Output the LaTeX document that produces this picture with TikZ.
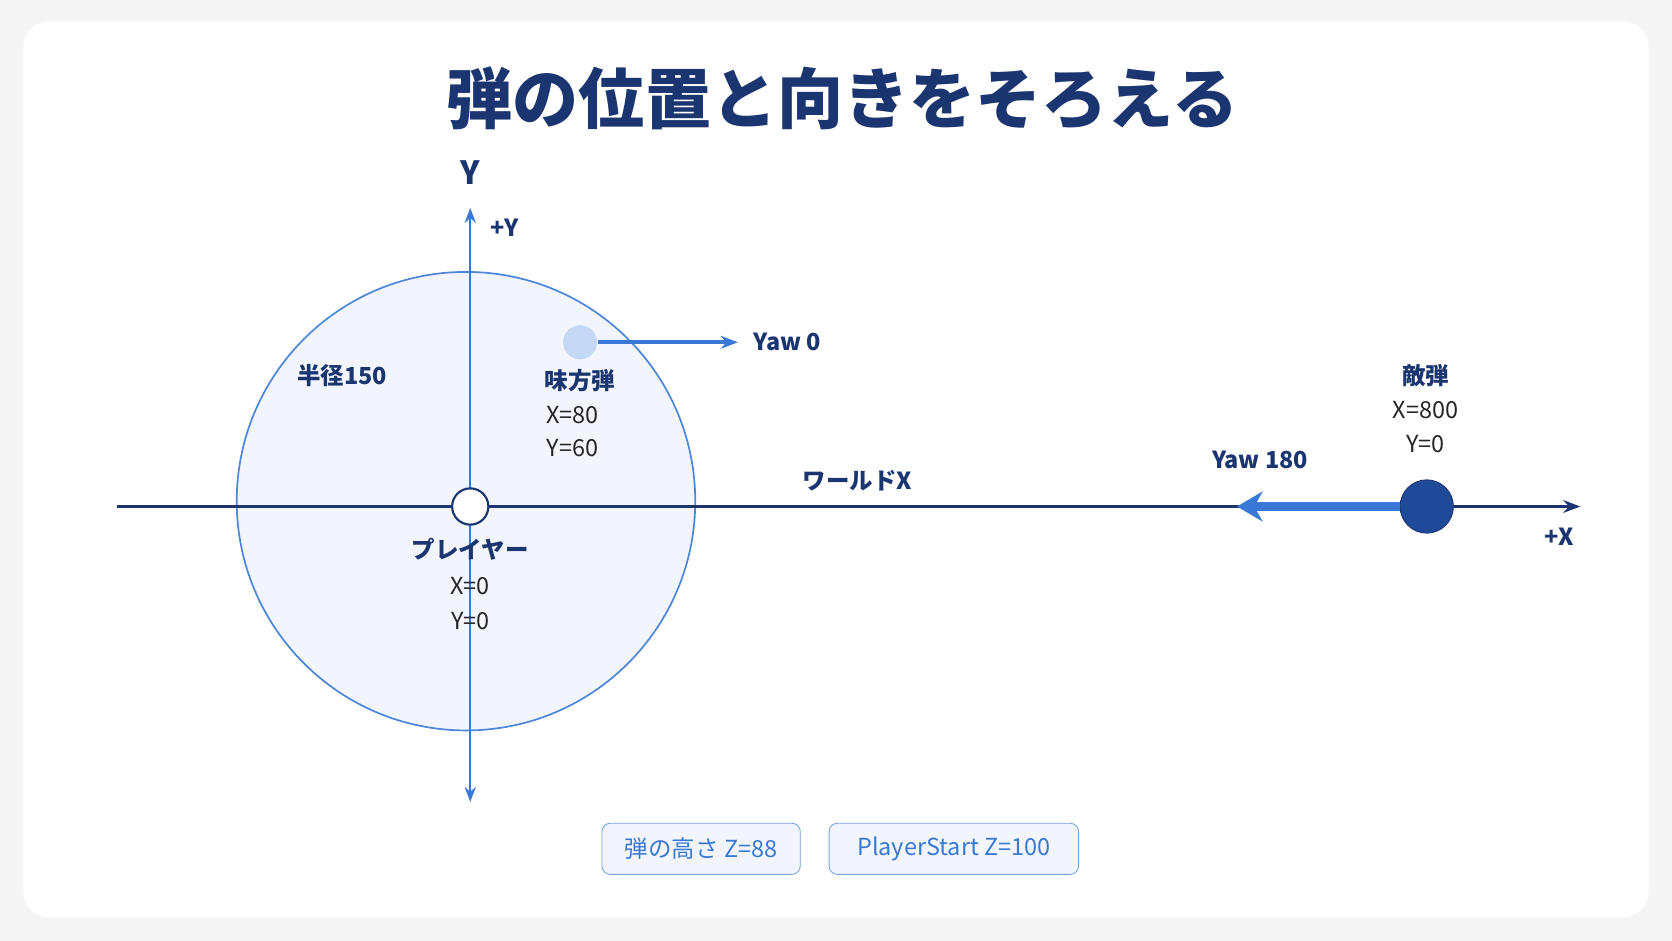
\documentclass[tikz,border=0pt]{standalone}
\usepackage{fontspec}
\setmainfont{Noto Sans CJK JP}
\usetikzlibrary{arrows.meta}
\definecolor{navy}{HTML}{1A3570}
\definecolor{axblue}{HTML}{3A78D8}
\definecolor{lblue}{HTML}{C5D8F5}
\definecolor{dblue}{HTML}{1F4A9A}
\definecolor{cfill}{HTML}{F2F6FC}
\begin{document}
\begin{tikzpicture}[x=0.5pt,y=-0.5pt,
  lab/.style={font=\fontsize{11}{13}\selectfont,text=black!85},
  blab/.style={font=\fontsize{11}{13}\selectfont\bfseries,text=navy},
  tag/.style={draw=axblue!70,fill=cfill,rounded corners=4pt,text=axblue,font=\fontsize{11}{13}\selectfont,minimum height=24pt,inner xsep=8pt}]
\useasboundingbox (0,0) rectangle (1568,882);
\fill[black!4] (0,0) rectangle (1568,882);
\fill[white,rounded corners=12pt] (22,20) rectangle (1546,860);
\node[font=\fontsize{31}{36}\selectfont\bfseries,text=navy] (title) at (790,92) {弾の位置と向きをそろえる};
\draw[axblue!90,fill=cfill,line width=0.8pt] (437,470) circle (215);
\coordinate (yt) at (441,195); \coordinate (yb) at (441,752);
\draw[axblue,line width=1pt,{Stealth[length=7pt]}-{Stealth[length=7pt]}] (yb) -- (yt);
\coordinate (xl) at (110,475); \coordinate (xr) at (1482,475);
\draw[navy,line width=1pt,-{Stealth[length=8pt]}] (xl) -- (xr);
\node[font=\fontsize{15}{18}\selectfont\bfseries,text=navy] (Y) at (441,162) {Y};
\node[blab] (py) at (473,214) {+Y};
\node[blab] (px) at (1462,503) {+X};
\node[circle,draw=navy,fill=white,line width=1pt,minimum size=17pt,inner sep=0] (pl) at (441,475) {};
\node[blab] (plt) at (441,515) {プレイヤー};
\node[lab] (plx) at (441,550) {X=0};
\node[lab] (ply) at (441,582) {Y=0};
\node[blab] (r) at (321,352) {半径150};
\node[circle,fill=lblue,minimum size=16pt,inner sep=0] (fb) at (544,321) {};
\coordinate (fe) at (692,321);
\draw[axblue,line width=2pt,-{Stealth[length=8pt]}] (fb) -- (fe);
\node[blab,anchor=west] (y0) at (700,321) {Yaw 0};
\node[blab] (fbt) at (544,357) {味方弾};
\node[lab] (fbx) at (537,389) {X=80};
\node[lab] (fby) at (537,420) {Y=60};
\node[blab] (wx) at (804,451) {ワールドX};
\node[circle,fill=dblue,draw=navy,minimum size=25pt,inner sep=0] (eb) at (1338,475) {};
\coordinate (ee) at (1160,475);
\draw[axblue,line width=4pt,-{Stealth[length=12pt,width=14pt]}] (eb) -- (ee);
\node[blab] (y180) at (1182,431) {Yaw 180};
\node[blab] (ebt) at (1337,352) {敵弾};
\node[lab] (ebx) at (1337,385) {X=800};
\node[lab] (eby) at (1337,416) {Y=0};
\node[tag,minimum width=93pt] (t1) at (657.5,796) {弾の高さ Z=88};
\node[tag,minimum width=117pt] (t2) at (894.5,796) {PlayerStart Z=100};
\end{tikzpicture}
\end{document}
